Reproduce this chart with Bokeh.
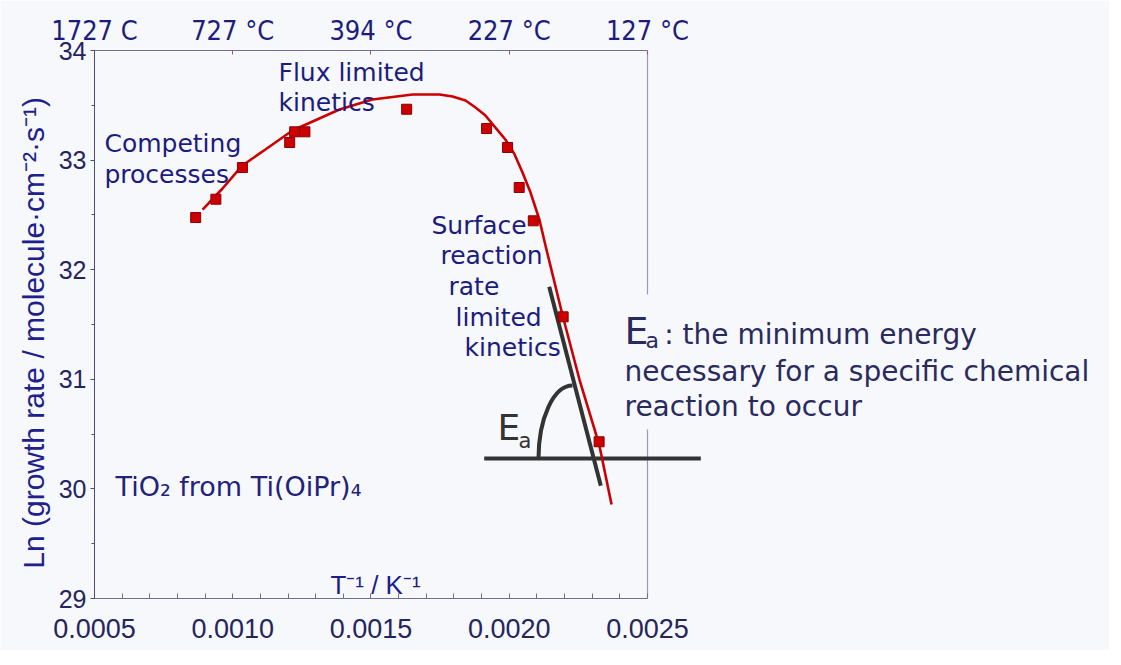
from bokeh.plotting import figure
from bokeh.models import (ColumnDataSource, Range1d, LinearAxis, FixedTicker,
                          PrintfTickFormatter, CustomJSTickFormatter)
from bokeh.core.properties import value
from bokeh.embed import file_html
from bokeh.resources import INLINE

# ---------------- data ----------------
inv_T = [0.000866, 0.000939, 0.001035, 0.001206, 0.001224, 0.001261, 0.001629,
         0.001918, 0.001994, 0.002036, 0.002087, 0.002195, 0.002325]
ln_rate = [32.476, 32.643, 32.932, 33.161, 33.258, 33.258, 33.464,
           33.288, 33.115, 32.750, 32.446, 31.570, 30.430]

fit_x = [0.000891, 0.000963, 0.001035, 0.001118, 0.001216, 0.001386, 0.001505,
         0.001578, 0.001650, 0.001748, 0.001795, 0.001842, 0.001878, 0.001914,
         0.001950, 0.001986, 0.002019, 0.002048, 0.002077, 0.002109, 0.002131,
         0.002193, 0.002254, 0.002326, 0.002370]
fit_y = [32.549, 32.741, 32.951, 33.097, 33.270, 33.462, 33.553,
         33.576, 33.599, 33.599, 33.580, 33.544, 33.480, 33.407,
         33.297, 33.188, 33.054, 32.887, 32.704, 32.458, 32.221,
         31.582, 30.998, 30.396, 29.858]

x_ticks = [0.0005, 0.0010, 0.0015, 0.0020, 0.0025]
x_minor = [0.0006, 0.0007, 0.0008, 0.0009, 0.0011, 0.0012, 0.0013, 0.0014,
           0.0016, 0.0017, 0.0018, 0.0019, 0.0021, 0.0022, 0.0023, 0.0024]
top_labels = ["1727 C", "727 °C", "394 °C", "227 °C", "127 °C"]
y_ticks = [29, 30, 31, 32, 33, 34]
y_minor = [29.5, 30.5, 31.5, 32.5, 33.5]

# Arrhenius construction (tangent, baseline, angle arc)
tangent_x = [0.0021445, 0.0023311]
tangent_y = [31.844, 30.028]
base_x = [0.0019094, 0.0026928]
base_y = [30.277, 30.277]
arc_pts = dict(x0=[0.0021058], y0=[30.277], x1=[0.0022288], y1=[30.943],
               cx0=[0.0021058], cy0=[30.642], cx1=[0.00216], cy1=[30.943])

# right frame line (interrupted behind the E_a note)
right_x = [0.0025, 0.0025]
right_y0 = [34.0, 30.542]
right_y1 = [31.774, 29.0]

# annotation texts
note_text = ["Competing", "processes", "Flux limited", "kinetics",
             "Surface", "reaction", "rate", "limited", "kinetics"]
note_x = [0.000536, 0.000536, 0.0011655, 0.0011655,
          0.0017188, 0.0017513, 0.0017803, 0.0018056, 0.0018382]
note_y = [33.149, 32.866, 33.803, 33.523,
          32.401, 32.127, 31.844, 31.562, 31.288]

ea_lines = ["necessary for a specific chemical", "reaction to occur"]
ea_lines_y = [31.071, 30.751]

BG = "#f6f8fc"
AX = "#6e6e96"
NAVY = "#1c1c7e"
TICK = "#25255e"
RED = "#cc0000"

p = figure(width=1109, height=650, output_backend="svg", toolbar_location=None,
           x_range=Range1d(0.0005, 0.0041709), y_range=Range1d(29, 34),
           x_axis_location=None, y_axis_location=None,
           min_border_left=94, min_border_top=50, min_border_bottom=52,
           min_border_right=0)
p.background_fill_color = BG
p.border_fill_color = BG
p.outline_line_color = None
p.grid.visible = False

# bottom axis
xb = LinearAxis(ticker=FixedTicker(ticks=x_ticks, minor_ticks=x_minor),
                formatter=PrintfTickFormatter(format="%.4f"),
                bounds=(0.0005, 0.0025))
xb.axis_line_color = AX
xb.major_tick_line_color = AX
xb.minor_tick_line_color = AX
xb.major_tick_in = 5
xb.major_tick_out = 0
xb.minor_tick_in = 5
xb.minor_tick_out = 0
xb.major_label_text_font = "Liberation Sans"
xb.major_label_text_font_size = "27px"
xb.major_label_text_color = TICK
xb.major_label_standoff = 20
p.add_layout(xb, "below")

# top axis (temperatures)
xt = LinearAxis(ticker=FixedTicker(ticks=x_ticks),
                formatter=CustomJSTickFormatter(args=dict(labels=top_labels),
                                                code="return labels[index];"),
                bounds=(0.0005, 0.0025))
xt.axis_line_color = AX
xt.major_tick_line_color = "#b05050"
xt.major_tick_in = 4
xt.major_tick_out = 0
xt.minor_tick_line_color = None
xt.major_label_text_font = "DejaVu Sans Condensed"
xt.major_label_text_font_size = "27px"
xt.major_label_text_color = NAVY
xt.major_label_standoff = 5
p.add_layout(xt, "above")

# left axis
yl = LinearAxis(ticker=FixedTicker(ticks=y_ticks, minor_ticks=y_minor),
                bounds=(29, 34),
                axis_label="Ln (growth rate / molecule·cm⁻²·s⁻¹)\u00a0\u00a0")
yl.axis_line_color = "#4c4c7c"
yl.major_tick_line_color = "#4c4c7c"
yl.minor_tick_line_color = "#4c4c7c"
yl.major_tick_out = 4
yl.major_tick_in = 0
yl.minor_tick_out = 3
yl.minor_tick_in = 0
yl.major_label_text_font = "Liberation Sans"
yl.major_label_text_font_size = "25px"
yl.major_label_text_color = TICK
yl.major_label_standoff = 4
yl.axis_label_text_font = "Liberation Sans"
yl.axis_label_text_font_size = "30px"
yl.axis_label_text_font_style = "normal"
yl.axis_label_text_color = "#20208c"
yl.axis_label_standoff = 6
p.add_layout(yl, "left")

# right frame line
p.segment(x0=right_x, y0=right_y0, x1=right_x, y1=right_y1,
          line_color="#9a9abb", line_width=1.2)

# construction lines
p.line(x=tangent_x, y=tangent_y, line_color="#333333", line_width=4)
p.line(x=base_x, y=base_y, line_color="#333333", line_width=4)
p.bezier(source=ColumnDataSource(arc_pts), x0="x0", y0="y0", x1="x1", y1="y1",
         cx0="cx0", cy0="cy0", cx1="cx1", cy1="cy1",
         line_color="#333333", line_width=4)

# fit curve and data
p.line(x=fit_x, y=fit_y, line_color=RED, line_width=2.6)
p.scatter(x=inv_T, y=ln_rate, marker="square", size=10,
          fill_color=RED, line_color="#8a0000", line_width=1)

# texts
p.text(x=note_x, y=note_y, text=note_text, text_font=value("DejaVu Sans"),
       text_font_size="25px", text_color=NAVY,
       text_align="left", text_baseline="alphabetic")

p.text(x=[0.000576], y=[30.018], text=["TiO₂ from Ti(OiPr)₄"],
       text_font=value("DejaVu Sans"), text_font_size="27px",
       text_color="#22227a", text_align="left", text_baseline="alphabetic")

p.text(x=[0.0015163], y=[29.12], text=["T⁻¹ / K⁻¹"],
       text_font=value("Liberation Sans"), text_font_size="26px",
       text_color="#1c1c8a", text_align="center", text_baseline="alphabetic")

# E_a at the angle
p.text(x=[0.0019575], y=[30.557], text=["E"], text_font=value("DejaVu Sans"),
       text_font_size="36px", text_color="#333333",
       text_align="left", text_baseline="alphabetic")
p.text(x=[0.0020335], y=[30.434], text=["a"], text_font=value("DejaVu Sans"),
       text_font_size="21px", text_color="#333333",
       text_align="left", text_baseline="alphabetic")

# E_a definition
EA_C = "#2a2a5c"
p.text(x=[0.0024168], y=[31.443], text=["E"], text_font=value("DejaVu Sans"),
       text_font_size="38px", text_color=EA_C,
       text_align="left", text_baseline="alphabetic")
p.text(x=[0.0024928], y=[31.353], text=["a"], text_font=value("DejaVu Sans"),
       text_font_size="22px", text_color=EA_C,
       text_align="left", text_baseline="alphabetic")
p.text(x=[0.0025604], y=[31.408], text=[": the minimum energy"],
       text_font=value("DejaVu Sans"), text_font_size="28px", text_color=EA_C,
       text_align="left", text_baseline="alphabetic")
p.text(x=[0.0024168] * len(ea_lines), y=ea_lines_y, text=ea_lines,
       text_font=value("DejaVu Sans"), text_font_size="28px", text_color=EA_C,
       text_align="left", text_baseline="alphabetic")

open("out.html", "w").write(file_html(p, INLINE))
